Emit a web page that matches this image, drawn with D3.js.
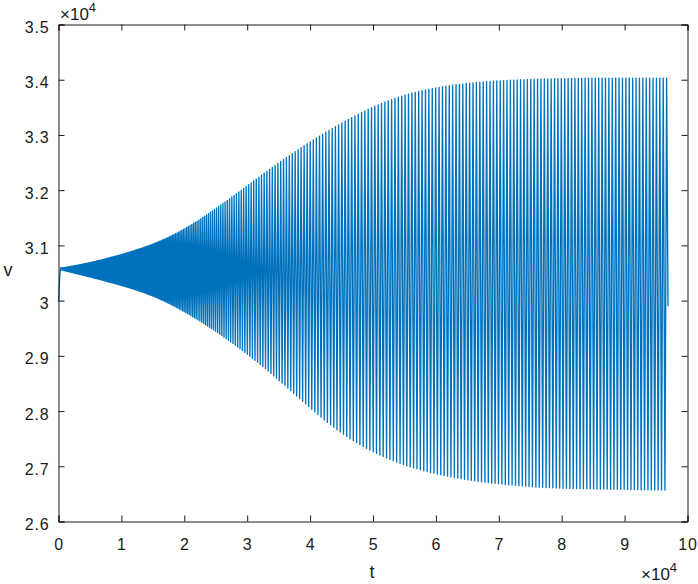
<!DOCTYPE html>
<html><head><meta charset="utf-8">
<script src="https://cdn.jsdelivr.net/npm/d3@7"></script>
<style>
body{margin:0;background:#fff}
svg{display:block}
text{font-family:"Liberation Sans",Arial,Helvetica,sans-serif;fill:#1a1a1a}
</style>
</head><body>
<svg id="c" width="698" height="584"></svg>
<script>
// ---- data (t and v both in units of 10^4) ----
const xTicks = [0, 1, 2, 3, 4, 5, 6, 7, 8, 9, 10];
const yTicks = [2.6, 2.7, 2.8, 2.9, 3.0, 3.1, 3.2, 3.3, 3.4, 3.5];
// envelope of the oscillation at t = 0, 0.5, ..., 10
const envT     = [0, 0.5, 1, 1.5, 2, 2.5, 3, 3.5, 4, 4.5, 5, 5.5, 6, 6.5, 7, 7.5, 8, 8.5, 9, 9.5, 10];
const envUpper = [3.058, 3.068, 3.083, 3.101, 3.128, 3.166, 3.208, 3.250, 3.288, 3.322, 3.352, 3.373, 3.386, 3.394, 3.398, 3.401, 3.402, 3.403, 3.403, 3.403, 3.403];
const envLower = [3.057, 3.043, 3.028, 3.010, 2.981, 2.945, 2.904, 2.857, 2.805, 2.758, 2.725, 2.701, 2.686, 2.675, 2.668, 2.663, 2.660, 2.659, 2.658, 2.657, 2.657];
// oscillation period (10^4 units), estimated from stripe pitch
const envPeriod = [0.012, 0.013, 0.016, 0.020, 0.026, 0.033, 0.040, 0.045, 0.049, 0.052, 0.053, 0.054, 0.054, 0.054, 0.054, 0.054, 0.054, 0.054, 0.054, 0.054, 0.054];
// initial transient
const startT = [0, 0.01, 0.02, 0.03, 0.04];
const startV = [2.998, 3.020, 3.045, 3.056, 3.060];
// first cycle start and last sample
const firstT = 0.05;
const endT = 9.69, endV = 2.99;

const svg = d3.select("#c");
const x = d3.scaleLinear().domain([0, 10]).range([58.5, 687.5]);
const y = d3.scaleLinear().domain([2.6, 3.5]).range([521.5, 24.5]);
// smooth (B-spline) envelopes through the read values
const u = d3.scaleLinear().domain(d3.extent(envT)).range([0, 1]);
const upI = d3.interpolateBasis(envUpper), loI = d3.interpolateBasis(envLower), perI = d3.interpolateBasis(envPeriod);
const up = t => upI(u(t)), lo = t => loI(u(t)), per = t => perI(u(t));

// build series points
const pts = startT.map((t, i) => [t, startV[i]]);
let t = firstT, k = 0;
while (t <= endT) {
  pts.push([t, k % 2 === 0 ? up(t) : lo(t)]);
  t += per(t) / 2; k++;
}
pts.push([endT, endV]);

svg.append("path")
  .attr("d", d3.line().x(d => x(d[0])).y(d => y(d[1]))(pts))
  .attr("fill", "none").attr("stroke", "#0072BD").attr("stroke-width", 1.35)
  .attr("stroke-linejoin", "round");

// axes
const ax = "#1a1a1a", tl = 6;
const fs = 16;
const gx = svg.append("g").attr("transform", `translate(0,${y(2.6)})`)
  .call(d3.axisBottom(x).tickValues(xTicks).tickSize(-tl).tickPadding(17.5).tickFormat(d3.format("d")));
const gxt = svg.append("g").attr("transform", `translate(0,${y(3.5)})`)
  .call(d3.axisTop(x).tickValues(xTicks).tickSize(-tl).tickFormat(""));
const gy = svg.append("g").attr("transform", `translate(${x(0)},0)`)
  .call(d3.axisLeft(y).tickValues(yTicks).tickSize(-tl).tickPadding(9).tickFormat(d => d3.format("~g")(d)));
const gyr = svg.append("g").attr("transform", `translate(${x(10)},0)`)
  .call(d3.axisRight(y).tickValues(yTicks).tickSize(-tl).tickFormat(""));
[gx, gxt, gy, gyr].forEach(g => {
  g.attr("font-size", fs).attr("font-family", '"Liberation Sans",Arial,Helvetica,sans-serif');
  g.select(".domain").attr("stroke", ax);
  g.selectAll(".tick line").attr("stroke", ax);
  g.selectAll(".tick text").attr("fill", ax).style("letter-spacing", "0.8px");
});
gy.selectAll(".tick text").attr("dy", "0.5em");

// exponent labels
function expo(tx, ty) {
  const tt = svg.append("text").attr("x", tx).attr("y", ty).style("font-size", "17px");
  tt.append("tspan").text("\u00d710");
  tt.append("tspan").attr("dy", -8).style("font-size", "13px").text("4");
}
expo(60, 20);
expo(641, 580);

// axis labels
svg.append("text").attr("x", x(5) - 1).attr("y", 578).attr("text-anchor", "middle")
  .style("font-size", "18px").text("t");
svg.append("text").attr("x", 8).attr("y", 276).attr("text-anchor", "middle")
  .style("font-size", "18px").text("v");
</script>
</body></html>
